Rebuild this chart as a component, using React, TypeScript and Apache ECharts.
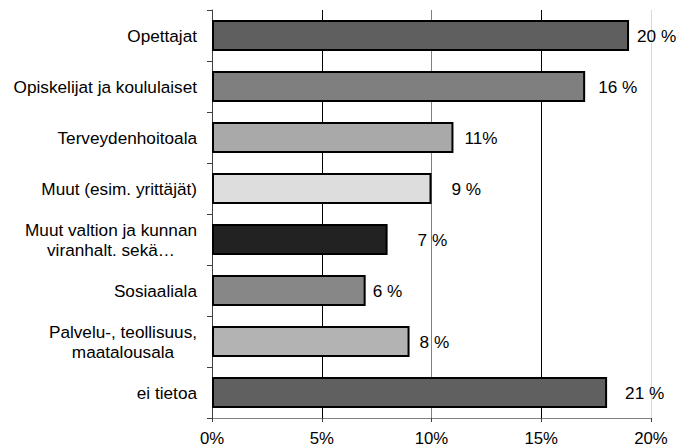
import React, { useEffect, useRef } from "react";
import * as echarts from "echarts";

const categories = [
  "Opettajat",
  "Opiskelijat ja koululaiset",
  "Terveydenhoitoala",
  "Muut (esim. yrittäjät)",
  "Muut valtion ja kunnan\nviranhalt. sekä…",
  "Sosiaaliala",
  "Palvelu-, teollisuus,\nmaatalousala",
  "ei tietoa",
];
const values = [19, 17, 11, 10, 8, 7, 9, 18];
const valueLabels = ["20 %", "16 %", "11%", "9 %", "7 %", "6 %", "8 %", "21 %"];
const tickValues = [0, 5, 10, 15, 20];

const barColors = ["#5f5f5f", "#7f7f7f", "#a9a9a9", "#dddddd", "#222222", "#878787", "#b3b3b3", "#606060"];
const labelGaps = [8, 13, 11, 20, 30, 7, 10, 18];

const FONT = "'Liberation Sans', Arial, sans-serif";
const FS = 17.2;
const LH = 20;

export default function App() {
  const ref = useRef<HTMLDivElement>(null);
  useEffect(() => {
    if (!ref.current) return;
    const chart = echarts.init(ref.current, undefined, { renderer: "svg" });
    chart.setOption({
      animation: false,
      backgroundColor: "#ffffff",
      grid: { left: 212, right: 30, top: 10, bottom: 25, containLabel: false },
      xAxis: {
        type: "value",
        min: tickValues[0],
        max: tickValues[tickValues.length - 1],
        interval: 5,
        axisLine: { show: true, lineStyle: { color: "#808080", width: 1 } },
        axisTick: { show: true, length: 4, lineStyle: { color: "#404040" } },
        axisLabel: {
          formatter: "{value}%",
          fontSize: 16.8,
          fontFamily: FONT,
          color: "#000",
          margin: 12,
        },
        splitLine: {
          show: true,
          lineStyle: { color: ["#000000", "#000000", "#808080", "#000000", "#d9d9d9"], width: 1 },
        },
      },
      yAxis: {
        type: "category",
        data: categories,
        inverse: true,
        axisLine: { show: true, lineStyle: { color: "#404040", width: 1 } },
        axisTick: { show: true, length: 5, lineStyle: { color: "#404040" } },
        axisLabel: {
          margin: 15,
          fontSize: FS,
          fontFamily: FONT,
          color: "#000",
          lineHeight: LH,
          align: "right",
          formatter: (v: string) =>
            v
              .split("\n")
              .map((s) => `{c|${s}}`)
              .join("\n"),
          rich: {
            c: { align: "center", fontSize: FS, fontFamily: FONT, color: "#000", lineHeight: LH },
          },
        },
      },
      series: [
        {
          type: "bar",
          barWidth: 31,
          data: values.map((v, i) => ({
            value: v,
            itemStyle: { color: barColors[i], borderColor: "#000", borderWidth: 2 },
            label: {
              show: true,
              position: "right",
              distance: labelGaps[i],
              formatter: () => valueLabels[i],
              fontSize: FS,
              fontFamily: FONT,
              color: "#000",
            },
          })),
        },
      ],
    });
    return () => chart.dispose();
  }, []);
  return <div ref={ref} style={{ position: "absolute", left: 0, top: 0, width: 681, height: 447 }} />;
}
